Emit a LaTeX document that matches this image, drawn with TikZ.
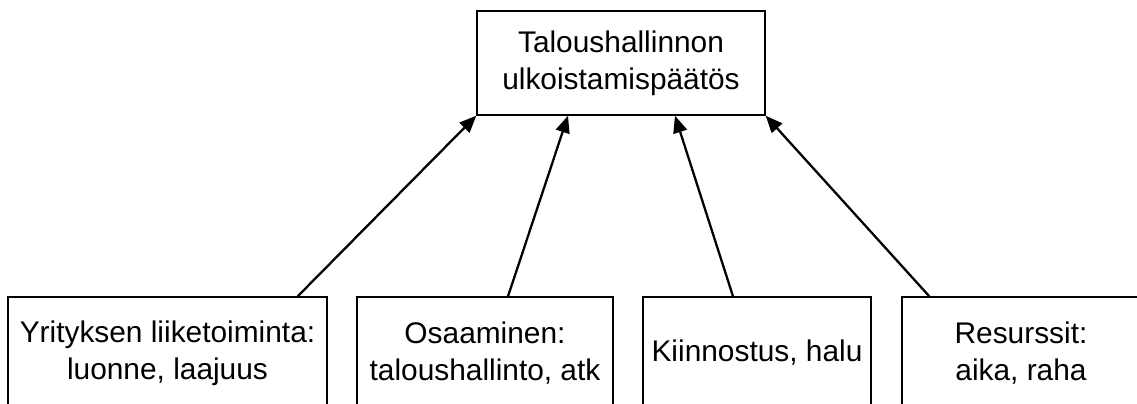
\documentclass[tikz,border=0pt]{standalone}
\usepackage{fontspec}
\setmainfont{Liberation Sans}
\usetikzlibrary{arrows.meta,positioning,calc}

\tikzset{
  box/.style={draw,line width=0.8pt,align=center,inner sep=0pt,font=\fontsize{17}{21}\selectfont},
  link/.style={line width=1.3pt,-{Triangle[length=0.34cm,width=0.28cm]}}
}

\begin{document}
\begin{tikzpicture}[x=0.02cm,y=-0.02cm]
\useasboundingbox (0,0) rectangle (1137,403);
\clip (0,0) rectangle (1137,403);
% decision box
\node[box,minimum width=5.76cm,minimum height=2.08cm] (paatos) at (621,63) {Taloushallinnon\\ulkoistamispäätös};
% factors (bottom edge lies below the picture)
\node[box,minimum width=6.38cm,minimum height=2.24cm] (liiketoiminta) at (167.5,353) {Yrityksen liiketoiminta:\\luonne, laajuus};
\node[box,minimum width=5.12cm,minimum height=2.24cm] (osaaminen) at (485,353) {Osaaminen:\\taloushallinto, atk};
\node[box,minimum width=4.56cm,minimum height=2.24cm] (kiinnostus) at (757,353) {Kiinnostus, halu};
\node[box,minimum width=4.76cm,minimum height=2.24cm] (resurssit) at (1021,353) {Resurssit:\\aika, raha};
\draw[link] ([xshift=-0.6cm]liiketoiminta.north east) -- (paatos.south west);
\draw[link] ([xshift=0.46cm]osaaminen.north) -- ([xshift=-1.06cm]paatos.south);
\draw[link] ([xshift=-0.48cm]kiinnostus.north) -- ([xshift=1.08cm]paatos.south);
\draw[link] ([xshift=0.56cm]resurssit.north west) -- (paatos.south east);
\end{tikzpicture}
\end{document}
